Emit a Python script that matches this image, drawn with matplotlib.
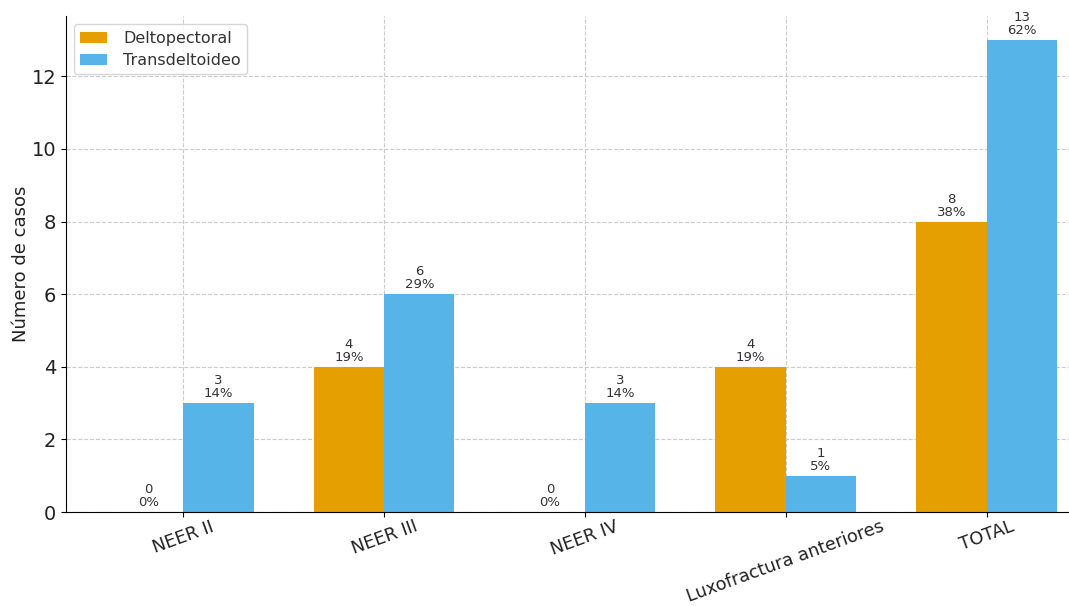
import numpy as np
import matplotlib.pyplot as plt

categorias = ['NEER II', 'NEER III', 'NEER IV', 'Luxofractura anteriores', 'TOTAL']
deltopectoral = [0, 4, 0, 4, 8]
transdeltoideo = [3, 6, 3, 1, 13]
pct_delto = ['0%', '19%', '0%', '19%', '38%']
pct_trans = ['14%', '29%', '14%', '5%', '62%']

c_delto = '#E69F00'
c_trans = '#56B4E9'

fig = plt.figure(figsize=(10.69, 6.06), dpi=100)
ax = fig.add_axes([0.0617, 0.155, 0.971, 0.818])

x = np.arange(len(categorias))
w = 0.35
b1 = ax.bar(x - w, deltopectoral, w, align='edge', color=c_delto, label='Deltopectoral')
b2 = ax.bar(x, transdeltoideo, w, align='edge', color=c_trans, label='Transdeltoideo')

for bars, vals, pcts in [(b1, deltopectoral, pct_delto), (b2, transdeltoideo, pct_trans)]:
    for rect, v, p in zip(bars, vals, pcts):
        ax.annotate(f'{v}\n{p}', (rect.get_x() + rect.get_width() / 2, v),
                    xytext=(0, 2), textcoords='offset points',
                    ha='center', va='bottom', fontsize=9.5, color='#333333',
                    linespacing=1.0)

ax.set_xticks(x)
ax.set_xticklabels(categorias, rotation=20, ha='center', fontsize=12.8, color='#222222')
ax.tick_params(axis='x', pad=0.5)
ax.tick_params(axis='y', labelsize=14, labelcolor='#222222')
ax.set_ylabel('Número de casos', fontsize=13, color='#222222', labelpad=1)
ax.set_ylim(0, 13 * 1.05)
ax.set_xlim(-0.585, 4.585)
ax.grid(True, linestyle='--', color='#cccccc', linewidth=0.8)
ax.set_axisbelow(True)
ax.spines['top'].set_visible(False)
ax.spines['right'].set_visible(False)
leg = ax.legend(loc='upper left', fontsize=11.5, handlelength=1.7, handletextpad=1.0,
                labelspacing=0.45)
for t in leg.get_texts():
    t.set_color('#333333')

fig.savefig('out.png', dpi=100)
